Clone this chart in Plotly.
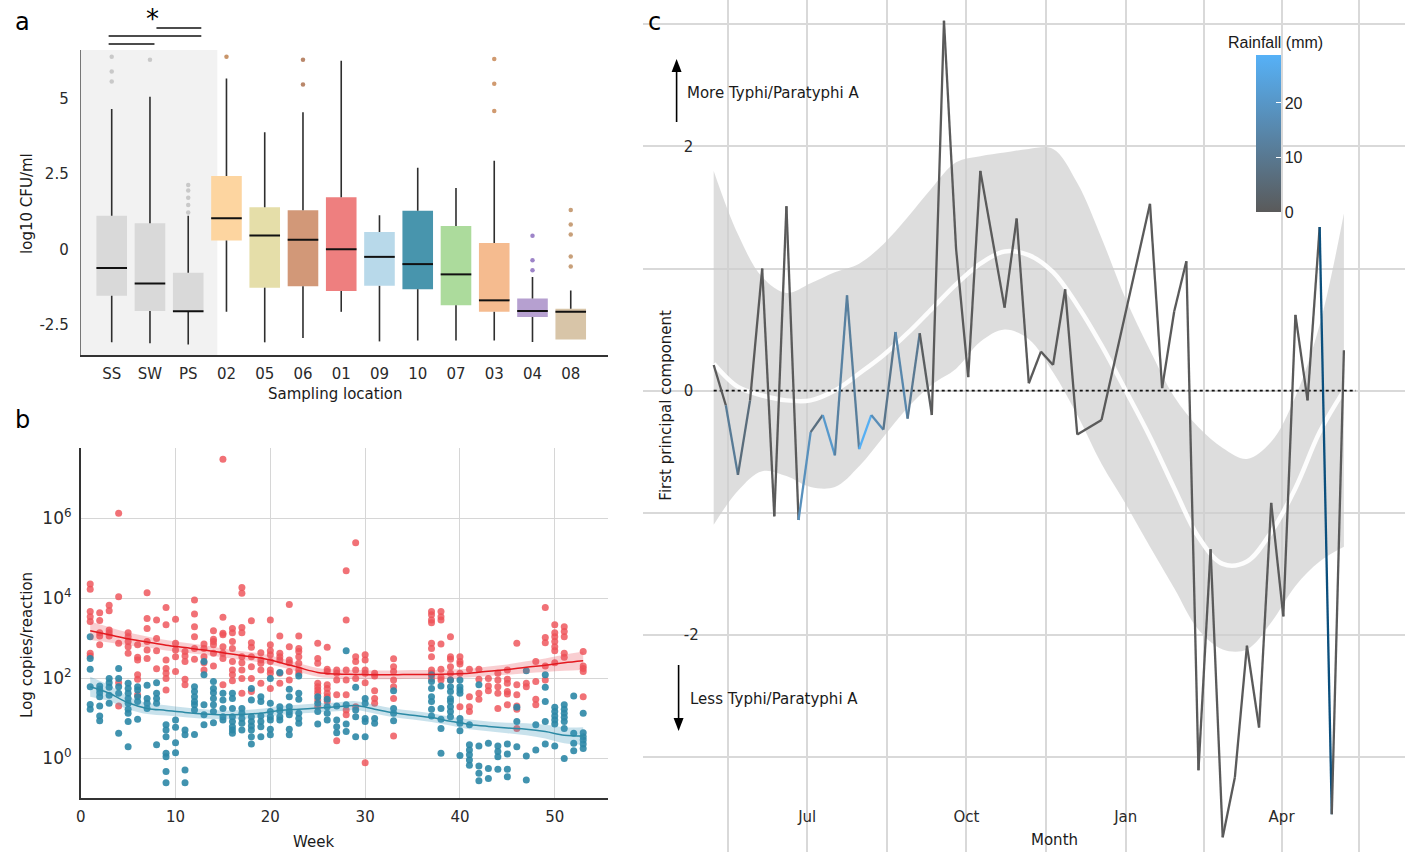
import numpy as np
import pandas as pd
import plotly.graph_objects as go

W, H = 1405, 852
FONT = "DejaVu Sans"


def px(x):
    return x / W


def py(y):
    return 1 - y / H


# ---------------- Panel a: box plots (log10 CFU/ml) ----------------
locations = ["SS", "SW", "PS", "02", "05", "06", "01", "09", "10", "07", "03", "04", "08"]
box_q1 = [-1.54, -2.04, -2.06, 0.29, -1.27, -1.22, -1.38, -1.21, -1.32, -1.85, -2.07, -2.24, -2.99]
box_median = [-0.62, -1.13, -2.05, 1.03, 0.46, 0.32, 0.00, -0.25, -0.49, -0.83, -1.69, -2.04, -2.07]
box_q3 = [1.11, 0.86, -0.78, 2.43, 1.39, 1.29, 1.72, 0.57, 1.28, 0.77, 0.21, -1.63, -1.97]
whisker_low = [-3.08, -3.11, -3.15, -2.07, -3.08, -2.94, -2.07, -3.05, -3.02, -3.02, -3.02, -3.07, -2.99]
whisker_high = [4.65, 5.05, 1.11, 5.66, 3.88, 4.54, 6.24, 1.13, 2.70, 2.03, 2.93, -0.92, -1.36]
outlier_values = [
    [6.38, 5.89, 5.56], [6.28], [2.13, 1.95, 1.71, 1.47, 1.22], [6.38], [], [6.28, 5.46], [],
    [], [], [], [6.30, 5.48, 4.58], [0.45, -0.36, -0.69], [1.30, 0.82, 0.49, -0.24, -0.57],
]
box_colors = ["#d9d9d9", "#d9d9d9", "#d9d9d9", "#fdd5a0", "#e5dea9", "#d29878", "#ee7f7f",
              "#b8d9ea", "#4895ad", "#acdb9c", "#f5bb8f", "#b6a0d0", "#d8c5a8"]
outlier_colors = ["#c9c9c9", "#c9c9c9", "#c9c9c9", "#c8956a", "#c8956a", "#b9876a", "#c8956a",
                  "#c8956a", "#c8956a", "#c8956a", "#d09a70", "#9d84c8", "#c8a07a"]

# ---------------- Panel b: copies per reaction by week (log10 values) ----------------
red_weeks = [1, 2, 3, 4, 5, 6, 7, 8, 9, 10, 11, 12, 13, 14, 15, 16, 17, 18, 19, 20, 21, 22, 23,
             25, 26, 27, 28, 29, 30, 31, 33, 37, 38, 39, 40, 41, 42, 43, 44, 45, 46, 47, 48, 49,
             50, 51, 53]
red_logs = [
    [4.35, 4.22, 3.66, 3.53, 3.41, 2.62, 2.55], [3.63, 3.44, 3.13, 3.05, 2.83],
    [3.82, 3.68, 3.2, 3.13, 3.05], [6.12, 4.03, 2.87, 1.88, 1.3], [3.13, 3.03, 2.91, 2.78, 2.62],
    [2.83, 2.52, 2.45, 2.08, 1.97, 1.58], [4.13, 3.49, 3.24, 2.91, 2.7, 2.49], [3.45, 2.99, 2.68, 2.23],
    [3.76, 3.33, 2.45, 2.24, 2.12, 1.99, 1.7], [3.47, 2.87, 2.7, 2.53, 2.16], [2.66, 2.55, 2.41, 1.97, 1.83],
    [3.95, 3.6, 3.28, 3.03, 2.74, 2.47], [2.85, 2.74, 2.53, 2.38, 2.2], [3.18, 2.97, 2.91, 2.83, 2.62, 2.3],
    [7.47, 3.52, 3.12, 3.08, 2.78, 2.62, 2.49, 1.83], [3.24, 3.13, 2.91, 2.74, 2.41, 2.2, 2.08, 1.93],
    [4.26, 4.12, 3.26, 3.13, 2.53, 2.38, 2.2, 1.99, 1.62], [3.43, 2.88, 2.77, 2.53, 2.28, 1.99, 1.66],
    [2.63, 2.45, 2.37, 2.2, 1.87], [3.45, 2.83, 2.68, 2.58, 2.41, 2.2, 2.12, 1.74],
    [3.05, 2.62, 2.53, 2.45, 2.12, 1.87], [3.84, 2.78, 2.45, 2.38, 2.16, 1.95],
    [3.05, 2.74, 2.66, 2.53, 2.37, 2.2, 2.12], [2.87, 2.49, 2.37, 1.87, 1.78, 1.7, 1.62, 1.45, 1.28],
    [2.77, 2.22, 2.16, 1.83, 1.74, 1.62, 1.53, 1.41], [2.2, 2.12, 1.95, 1.58, 0.43],
    [4.68, 3.45, 2.2, 1.95, 1.58, 1.2, 1.08], [5.38, 2.53, 2.41, 2.2, 1.99, 1.28],
    [2.58, 2.45, 2.2, 2.12, 1.88, -0.12], [2.12, 2.05, 1.68, 1.49, 1.37],
    [2.48, 2.28, 2.16, 1.95, 1.78, 1.49, 0.55], [3.66, 3.58, 3.45, 3.38, 2.87, 2.74, 2.53, 2.2, 2.12, 1.99],
    [3.66, 3.53, 3.45, 2.85, 2.22, 2.02, 1.95], [3.03, 2.53, 2.47, 2.28, 2.12, 1.95],
    [2.53, 2.41, 2.35, 2.12, 1.28], [2.22, 1.53, 1.28, 1.16], [2.22, 1.97, 1.62, 1.47], [1.99, 1.8, 1.68],
    [2.12, 1.95, 1.78, 1.62, 1.24], [2.2, 1.97, 1.87, 1.66, 1.6, 1.33], [2.87, 1.83, 1.58, 1.3, 1.22, 0.74],
    [1.87, 1.78], [2.41, 1.91, 1.47, 1.33], [3.76, 3.01, 2.88, 2.3, 1.95],
    [3.33, 3.13, 3.03, 2.91, 2.78, 2.68, 2.38], [3.28, 3.16, 3.03, 2.62, 2.52], [2.66, 2.3, 2.24, 2.16, 1.53],
]
blue_weeks = [1, 2, 3, 4, 5, 6, 7, 8, 9, 10, 11, 12, 13, 14, 15, 16, 17, 18, 19, 20, 21, 22, 23,
              25, 26, 27, 28, 29, 30, 31, 33, 37, 38, 39, 40, 41, 42, 43, 44, 45, 46, 47, 48, 49,
              50, 51, 52, 53]
blue_logs = [
    [3.03, 2.49, 2.22, 1.78, 1.34, 1.22], [1.8, 1.72, 1.63, 1.53, 1.3, 1.05, 0.93],
    [1.99, 1.88, 1.77, 1.57, 1.37], [2.24, 1.99, 1.78, 1.62, 0.62],
    [1.87, 1.74, 1.62, 1.49, 1.37, 1.22, 1.12, 0.91, 0.28], [1.78, 1.7, 1.53, 1.41, 0.97],
    [1.82, 1.49, 1.37, 1.24], [1.88, 1.62, 1.49, 1.37, 0.33], [0.83, 0.7, 0.53, 0.12, 0.03, -0.34, -0.62],
    [0.95, 0.77, 0.38, 0.13], [0.7, 0.58, -0.3, -0.62], [1.78, 1.66, 1.53, 1.41, 1.33, 1.2, 0.59],
    [2.41, 2.08, 1.33, 1.08, 0.83], [1.91, 1.74, 1.63, 1.49, 1.33, 1.16, 0.88], [1.62, 1.45, 1.24, 1.03, 0.95],
    [1.62, 1.49, 1.24, 1.03, 0.91, 0.78, 0.7, 0.62], [1.24, 1.12, 0.99, 0.87, 0.7],
    [1.74, 1.45, 1.03, 0.91, 0.8, 0.7, 0.53, 0.35], [1.53, 1.41, 1.05, 0.91, 0.78, 0.53],
    [1.99, 1.37, 1.16, 1.03, 0.95, 0.72, 0.58], [2.14, 1.28, 1.18, 1.03, 0.95],
    [1.72, 1.53, 1.28, 1.16, 1.08, 0.72, 0.58], [2.05, 1.62, 1.47, 1.12, 0.99, 0.87],
    [1.53, 1.37, 1.16, 0.85], [1.47, 1.28, 1.12, 0.95], [1.3, 0.95, 0.78, 0.63], [2.68, 1.33, 0.85, 0.66],
    [1.77, 1.2, 1.03, 0.53], [1.49, 1.37, 0.99, 0.91, 0.53], [0.99, 0.87], [1.68, 1.24, 1.12, 0.93],
    [2.08, 1.91, 1.74, 1.53, 1.41, 1.22, 1.05], [1.8, 1.24, 0.97, 0.74, 0.12],
    [1.95, 1.78, 1.66, 1.49, 1.41, 1.28, 1.16, 1.03], [1.95, 1.78, 1.7, 1.62, 0.99, 0.87, 0.68, 0.06],
    [0.83, 0.33, 0.2, 0.08, -0.05, -0.18], [1.83, 0.3, -0.2, -0.38, -0.57], [0.37, -0.26, -0.51],
    [0.3, 0.16, 0.03, -0.28], [0.35, 0.1, -0.28, -0.47], [1.27, 0.91, 0.28], [2.18, 0.05, -0.55],
    [0.83, 0.2], [2.08, 1.77, 1.41, 0.91, 0.35], [1.27, 1.16, 1.05, 0.95, 0.85, 0.3],
    [1.33, 1.22, 1.12, 1.02, 0.91, 0.74, -0.01], [1.55, 0.62, 0.37, 0.18], [1.12, 0.63, 0.53, 0.45, 0.35, 0.24],
]
fit_weeks = [1, 3, 5, 7, 9, 11, 13, 15, 17, 19, 21, 23, 25, 27, 29, 31, 33, 35, 37, 39, 41, 43, 45, 47, 49, 51, 53]
red_fit = [3.18, 3.08, 2.98, 2.90, 2.82, 2.76, 2.70, 2.63, 2.56, 2.50, 2.39, 2.26, 2.14, 2.10, 2.09, 2.08,
           2.08, 2.09, 2.09, 2.10, 2.12, 2.17, 2.21, 2.27, 2.32, 2.38, 2.43]
red_halfwidth = [0.23, 0.19, 0.16, 0.14, 0.13, 0.12, 0.12, 0.11, 0.11, 0.11, 0.11, 0.11, 0.11, 0.11, 0.11,
                 0.11, 0.11, 0.11, 0.11, 0.11, 0.11, 0.12, 0.13, 0.15, 0.17, 0.20, 0.23]
blue_fit = [1.78, 1.62, 1.38, 1.24, 1.19, 1.14, 1.10, 1.08, 1.09, 1.12, 1.19, 1.22, 1.25, 1.28, 1.31, 1.22,
            1.13, 1.07, 1.01, 0.92, 0.84, 0.79, 0.75, 0.72, 0.66, 0.57, 0.55]
blue_halfwidth = [0.25, 0.20, 0.16, 0.14, 0.13, 0.12, 0.12, 0.11, 0.11, 0.11, 0.11, 0.11, 0.11, 0.11, 0.11,
                  0.11, 0.11, 0.11, 0.11, 0.11, 0.12, 0.12, 0.13, 0.15, 0.17, 0.20, 0.22]
b_ticks = [1, 100, 1e4, 1e6]
b_ticktext = ["10<sup>0</sup>", "10<sup>2</sup>", "10<sup>4</sup>", "10<sup>6</sup>"]

# ---------------- Panel c: first principal component over time ----------------
pc_start = "2018-05-08"
pc_weeks = [0, 1, 2, 3, 4, 5, 6, 7, 8, 9, 10, 11, 12, 13, 14, 15, 16, 17, 18, 19, 20, 21, 22,
            24, 25, 26, 27, 28, 29, 30, 32, 36, 37, 38, 39, 40, 41, 42, 43, 44, 45, 46, 47, 48,
            49, 50, 51, 52]
pc_values = [0.21, -0.12, -0.69, -0.08, 1.00, -1.03, 1.51, -1.06, -0.34, -0.20, -0.53, 0.78, -0.48,
             -0.20, -0.32, 0.48, -0.23, 0.47, -0.20, 3.03, 1.16, 0.11, 1.80, 0.68, 1.41, 0.06, 0.32,
             0.21, 0.83, -0.36, -0.24, 1.53, 0.02, 0.65, 1.06, -3.11, -1.30, -3.66, -3.17, -2.09,
             -2.76, -0.92, -1.85, 0.62, -0.08, 1.34, -3.47, 0.33]
rainfall_mm = [0, 11, 6, 0, 0, 0, 0, 18, 7, 21, 13, 12, 28, 17, 9, 15, 10, 1, 0, 0, 0, 0, 0, 0, 0,
               0, 0, 0, 0, 0, 0, 0, 0, 0, 0, 0, 0, 0, 0, 0, 0, 0, 0, 0, 0, None, 0, 0]
smooth_weeks = [0, 2, 4, 6, 8, 10, 12, 14, 16, 18, 20, 22, 24, 26, 28, 30, 32, 34, 36, 38, 40, 42,
                44, 46, 48, 50, 52]
pc_smooth = [0.22, 0.03, -0.04, -0.08, -0.08, 0.00, 0.14, 0.29, 0.47, 0.67, 0.87, 1.04, 1.14, 1.11,
             0.97, 0.70, 0.37, 0.00, -0.38, -0.80, -1.20, -1.42, -1.40, -1.16, -0.80, -0.34, 0.00]
pc_upper = [1.80, 1.28, 0.93, 0.80, 0.88, 0.97, 1.04, 1.20, 1.42, 1.66, 1.87, 1.92, 1.95, 1.98, 1.98,
            1.70, 1.25, 0.75, 0.33, -0.05, -0.30, -0.47, -0.56, -0.42, -0.05, 0.54, 1.45]
pc_lower = [-1.10, -0.82, -0.66, -0.70, -0.79, -0.79, -0.62, -0.38, -0.14, 0.05, 0.18, 0.40, 0.50,
            0.42, 0.15, -0.20, -0.60, -0.93, -1.28, -1.62, -1.96, -2.12, -2.12, -1.90, -1.60, -1.40,
            -1.28]
pc_ticks = [-2, 0, 2]
pc_ticktext = ["-2", "0", "2"]
month_ticks = ["2018-07-01", "2018-10-01", "2019-01-01", "2019-04-01"]
month_labels = ["Jul", "Oct", "Jan", "Apr"]
month_minor = ["2018-04-01", "2018-05-16", "2018-08-16", "2018-11-16", "2019-02-15", "2019-05-16"]
rain_max = 28.8

# ====================================================================
fig = go.Figure()

# ----- panel a -----
idx = list(range(len(locations)))
fig.add_trace(go.Bar(
    x=idx, base=box_q1, y=[h - l for h, l in zip(box_q3, box_q1)], width=0.8,
    marker=dict(color=box_colors, line=dict(width=0)), xaxis="x", yaxis="y",
    showlegend=False, hoverinfo="skip"))
wx, wy = [], []
for i in idx:
    wx += [i, i, None, i, i, None]
    wy += [whisker_low[i], box_q1[i], None, box_q3[i], whisker_high[i], None]
fig.add_trace(go.Scatter(x=wx, y=wy, mode="lines", line=dict(color="#2e2e2e", width=1.6),
                         xaxis="x", yaxis="y", showlegend=False, hoverinfo="skip"))
mx, my = [], []
for i in idx:
    mx += [i - 0.4, i + 0.4, None]
    my += [box_median[i], box_median[i], None]
fig.add_trace(go.Scatter(x=mx, y=my, mode="lines", line=dict(color="#111111", width=2),
                         xaxis="x", yaxis="y", showlegend=False, hoverinfo="skip"))
ox, oy, oc = [], [], []
for i in idx:
    for v in outlier_values[i]:
        ox.append(i)
        oy.append(v)
        oc.append(outlier_colors[i])
fig.add_trace(go.Scatter(x=ox, y=oy, mode="markers", marker=dict(color=oc, size=4.5),
                         xaxis="x", yaxis="y", showlegend=False, hoverinfo="skip"))

# ----- panel b -----
def expand(weeks, logs):
    xs, ys = [], []
    for w, vals in zip(weeks, logs):
        for v in vals:
            xs.append(w)
            ys.append(10 ** v)
    return xs, ys


rx, ry = expand(red_weeks, red_logs)
bx, by = expand(blue_weeks, blue_logs)
fig.add_trace(go.Scatter(x=rx, y=ry, mode="markers",
                         marker=dict(color="rgba(238,82,88,0.82)", size=7),
                         xaxis="x2", yaxis="y2", showlegend=False, hoverinfo="skip"))
fig.add_trace(go.Scatter(x=bx, y=by, mode="markers",
                         marker=dict(color="rgba(44,135,166,0.9)", size=7),
                         xaxis="x2", yaxis="y2", showlegend=False, hoverinfo="skip"))
for fit, hw, fill, col in [(red_fit, red_halfwidth, "rgba(235,80,90,0.28)", "#e3191f"),
                           (blue_fit, blue_halfwidth, "rgba(60,150,185,0.28)", "#2c8aa5")]:
    lo = [10 ** (f - h) for f, h in zip(fit, hw)]
    hi = [10 ** (f + h) for f, h in zip(fit, hw)]
    fig.add_trace(go.Scatter(x=fit_weeks, y=lo, mode="lines", line=dict(width=0, shape="spline"),
                             xaxis="x2", yaxis="y2", showlegend=False, hoverinfo="skip"))
    fig.add_trace(go.Scatter(x=fit_weeks, y=hi, mode="lines", line=dict(width=0, shape="spline"),
                             fill="tonexty", fillcolor=fill,
                             xaxis="x2", yaxis="y2", showlegend=False, hoverinfo="skip"))
    fig.add_trace(go.Scatter(x=fit_weeks, y=[10 ** f for f in fit], mode="lines",
                             line=dict(color=col, width=1.5, shape="spline"),
                             xaxis="x2", yaxis="y2", showlegend=False, hoverinfo="skip"))

# ----- panel c -----
start = pd.Timestamp(pc_start)
pc_dates = [start + pd.Timedelta(days=7 * k) for k in pc_weeks]
sm_dates = [start + pd.Timedelta(days=7 * k) for k in smooth_weeks]

fig.add_trace(go.Scatter(x=sm_dates, y=pc_lower, mode="lines", line=dict(width=0, shape="spline"),
                         xaxis="x3", yaxis="y3", showlegend=False, hoverinfo="skip"))
fig.add_trace(go.Scatter(x=sm_dates, y=pc_upper, mode="lines", line=dict(width=0, shape="spline"),
                         fill="tonexty", fillcolor="rgba(205,205,205,0.68)",
                         xaxis="x3", yaxis="y3", showlegend=False, hoverinfo="skip"))
fig.add_trace(go.Scatter(x=sm_dates, y=pc_smooth, mode="lines",
                         line=dict(color="rgba(255,255,255,0.92)", width=4.5, shape="spline"),
                         xaxis="x3", yaxis="y3", showlegend=False, hoverinfo="skip"))
fig.add_trace(go.Scatter(x=[start, pd.Timestamp("2019-05-14")], y=[0, 0], mode="lines",
                         line=dict(color="#111111", width=1.6, dash="dot"),
                         xaxis="x3", yaxis="y3", showlegend=False, hoverinfo="skip"))

lo_rgb = np.array([90, 90, 90])
hi_rgb = np.array([86, 177, 247])


def rain_color(r):
    if r is None:
        return "#0b4f7d"
    t = min(max(r / rain_max, 0.0), 1.0)
    c = np.round(lo_rgb + t * (hi_rgb - lo_rgb)).astype(int)
    return "rgb(%d,%d,%d)" % tuple(c)


for i in range(len(pc_values) - 1):
    fig.add_trace(go.Scatter(x=[pc_dates[i], pc_dates[i + 1]], y=[pc_values[i], pc_values[i + 1]],
                             mode="lines", line=dict(color=rain_color(rainfall_mm[i]), width=2.3),
                             xaxis="x3", yaxis="y3", showlegend=False, hoverinfo="skip"))

# colour bar carrier
fig.add_trace(go.Scatter(
    x=[pc_dates[0], pc_dates[0]], y=[0, 0], mode="markers",
    marker=dict(size=1, opacity=0, color=[0, rain_max], cmin=0, cmax=rain_max,
                colorscale=[[0, "rgb(90,90,90)"], [1, "rgb(86,177,247)"]], showscale=True,
                colorbar=dict(x=px(1255), xanchor="left", y=py(212), yanchor="bottom",
                              len=157 / H, lenmode="fraction", thickness=25, thicknessmode="pixels",
                              outlinewidth=0, tickvals=[0, 10, 20], ticktext=["0", "10", "20"],
                              ticks="inside", tickcolor="white", ticklen=5, xpad=0, ypad=0,
                              tickfont=dict(family="Liberation Sans", size=16, color="#222"))),
    xaxis="x3", yaxis="y3", showlegend=False, hoverinfo="skip"))

# ----- layout -----
tickfont = dict(family=FONT, size=15, color="#2a2a2a")
fig.update_layout(
    width=W, height=H, margin=dict(l=0, r=0, t=0, b=0),
    paper_bgcolor="white", plot_bgcolor="white", showlegend=False,
    xaxis=dict(domain=[px(76), px(605)], anchor="y", range=[-0.81, 12.97], tickvals=idx,
               ticktext=locations, showgrid=False, zeroline=False, showline=True,
               linecolor="#333", linewidth=1.5, ticks="", tickfont=tickfont, ticklabelstandoff=4),
    yaxis=dict(domain=[py(355), py(50)], anchor="x", range=[-3.5, 6.6], tickvals=[-2.5, 0, 2.5, 5],
               ticktext=["-2.5", "0", "2.5", "5"], showgrid=False, zeroline=False, showline=True,
               linecolor="#777", linewidth=1, ticks="", tickfont=tickfont, ticklabelstandoff=8),
    xaxis2=dict(domain=[px(76), px(605)], anchor="y2", range=[0, 55.6], tickvals=[0, 10, 20, 30, 40, 50],
                ticktext=["0", "10", "20", "30", "40", "50"],
                showgrid=True, gridcolor="#d6d6d6", gridwidth=1.4, zeroline=False, showline=True,
                linecolor="#333", linewidth=1.5, ticks="", tickfont=tickfont, ticklabelstandoff=4),
    yaxis2=dict(domain=[py(798), py(448)], anchor="x2", type="log", range=[-1, 7.75], tickvals=b_ticks,
                ticktext=b_ticktext, showgrid=True, gridcolor="#d6d6d6", gridwidth=1.4, zeroline=False,
                showline=True, linecolor="#333", linewidth=1.5, ticks="",
                tickfont=dict(family=FONT, size=17, color="#2a2a2a"), ticklabelstandoff=4),
    xaxis3=dict(domain=[px(640), 1], anchor="y3", type="date",
                range=["2018-03-28", "2019-06-11 07:00"], tickvals=month_ticks, ticktext=month_labels,
                showgrid=True, gridcolor="#d9d9d9", gridwidth=1.6, zeroline=False, showline=False,
                ticks="", ticklabelposition="inside", ticklabelstandoff=24, tickfont=tickfont,
                minor=dict(tickvals=month_minor, showgrid=True, gridcolor="#d9d9d9", gridwidth=1.6)),
    yaxis3=dict(domain=[0, 1], anchor="x3", range=[-3.78, 3.2], tickvals=pc_ticks, ticktext=pc_ticktext,
                showgrid=True, gridcolor="#d9d9d9", gridwidth=1.6, zeroline=False, showline=False,
                ticks="", ticklabelposition="inside", ticklabelstandoff=38, tickfont=tickfont,
                minor=dict(tickvals=[-3, -1, 1, 3], showgrid=True, gridcolor="#d9d9d9", gridwidth=1.6)),
)

# gray facet background & significance bars
shapes = [
    dict(type="rect", xref="x", yref="y", x0=-0.81, x1=2.76, y0=-3.5, y1=6.6,
         fillcolor="#f2f2f2", line=dict(width=0), layer="below"),
    dict(type="line", xref="paper", yref="paper", x0=px(104), x1=px(150), y0=py(44), y1=py(44),
         line=dict(color="#111", width=1.6)),
    dict(type="line", xref="paper", yref="paper", x0=px(104), x1=px(197), y0=py(36), y1=py(36),
         line=dict(color="#111", width=1.6)),
    dict(type="line", xref="paper", yref="paper", x0=px(152), x1=px(197), y0=py(28), y1=py(28),
         line=dict(color="#111", width=1.6)),
    # arrow shafts
    dict(type="line", xref="paper", yref="paper", x0=px(674), x1=px(674), y0=py(122), y1=py(70),
         line=dict(color="#000", width=1.6)),
    dict(type="line", xref="paper", yref="paper", x0=px(676), x1=px(676), y0=py(665), y1=py(720),
         line=dict(color="#000", width=1.6)),
    # arrow heads
    dict(type="path", xref="paper", yref="paper",
         path="M %f %f L %f %f L %f %f Z" % (px(669), py(72), px(679), py(72), px(674), py(59)),
         fillcolor="#000", line=dict(width=0)),
    dict(type="path", xref="paper", yref="paper",
         path="M %f %f L %f %f L %f %f Z" % (px(671), py(718), px(681), py(718), px(676), py(731)),
         fillcolor="#000", line=dict(width=0)),
]
fig.update_layout(shapes=shapes)


def ann(text, x, y, size=15, angle=0, xanchor="center", family=FONT, color="#1a1a1a"):
    return dict(text=text, x=px(x), y=py(y), xref="paper", yref="paper", showarrow=False,
                xanchor=xanchor, yanchor="middle", textangle=angle,
                font=dict(family=family, size=size, color=color))


annotations = [
    ann("a", 18, 22, size=24, color="#000"),
    ann("b", 18, 420, size=24, color="#000"),
    ann("c", 652, 22, size=24, color="#000"),
    ann("*", 148, 19, size=26, color="#000"),
    ann("log10 CFU/ml", 22, 203, angle=-90),
    ann("Sampling location", 332, 394),
    ann("Log copies/reaction", 22, 645, angle=-90),
    ann("Week", 310, 842),
    ann("First principal component", 663, 405, angle=-90),
    ann("Month", 1053, 840),
    ann("More Typhi/Paratyphi A", 682, 93, xanchor="left"),
    ann("Less Typhi/Paratyphi A", 685, 699, xanchor="left"),
    ann("Rainfall (mm)", 1275, 42, family="Liberation Sans", size=16),
]
fig.update_layout(annotations=annotations)

fig.write_html("out.html", config={"displayModeBar": False},
               post_script="document.body.style.margin='0';document.body.style.overflow='hidden';")
